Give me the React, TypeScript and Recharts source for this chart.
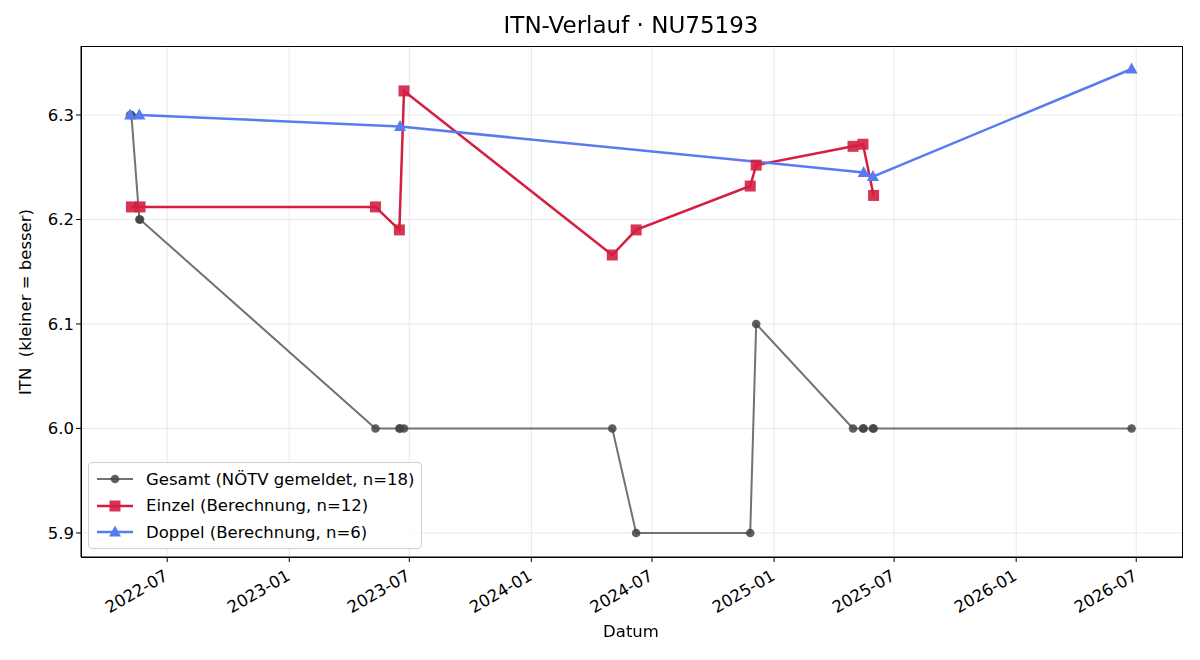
import React from "react";
import { LineChart, Line, XAxis, YAxis, CartesianGrid } from "recharts";

// one row per match date (union of Einzel + Doppel dates)
const dates = [
  "2022-05-06", "2022-05-08", "2022-05-20", "2022-05-21", "2023-05-11", "2023-06-16",
  "2023-06-17", "2023-06-23", "2024-05-02", "2024-06-07", "2024-11-26", "2024-12-05",
  "2025-04-30", "2025-05-15", "2025-05-16", "2025-05-30", "2025-05-31", "2026-06-24",
];
const gesamt = [6.3, 6.3, 6.2, 6.2, 6.0, 6.0, 6.0, 6.0, 6.0, 5.9, 5.9, 6.1, 6.0, 6.0, 6.0, 6.0, 6.0, 6.0];
const einzel = [null, 6.212, null, 6.212, 6.212, 6.19, null, 6.323, 6.166, 6.19, 6.232, 6.252, 6.27, 6.272, null, null, 6.223, null];
const doppel = [6.3, null, 6.3, null, null, null, 6.289, null, null, null, null, null, null, null, 6.245, 6.241, null, 6.344];

const xTickLabels = ["2022-07", "2023-01", "2023-07", "2024-01", "2024-07", "2025-01", "2025-07", "2026-01", "2026-07"];
const yTicks = [5.9, 6.0, 6.1, 6.2, 6.3];

const SERIES = [
  { key: "gesamt", name: "Gesamt (NÖTV gemeldet, n=18)", color: "#727272", marker: "circle", width: 2 },
  { key: "einzel", name: "Einzel (Berechnung, n=12)", color: "#d41f41", marker: "square", width: 2.5 },
  { key: "doppel", name: "Doppel (Berechnung, n=6)", color: "#5a7af0", marker: "triangle", width: 2.5 },
];

const toT = (s: string) => Date.parse(s + "T00:00:00Z");

const data = dates.map((d, i) => ({ t: toT(d), gesamt: gesamt[i], einzel: einzel[i], doppel: doppel[i] }));
const xTicks = xTickLabels.map(l => toT(l + "-01"));
const labelOf: Record<number, string> = {};
xTicks.forEach((t, i) => (labelOf[t] = xTickLabels[i]));

const FONT = "'DejaVu Sans', sans-serif";
const W = 1200, H = 660;
const PLOT = { left: 81, right: 1182, top: 46, bottom: 557 };

function Marker({ kind, x, y }: { kind: string; x: number; y: number }) {
  if (kind === "circle") return <circle cx={x} cy={y} r={4.3} fill="#444" fillOpacity={0.85} />;
  if (kind === "square") return <rect x={x - 5.5} y={y - 5.5} width={11} height={11} fill="#d41f41" fillOpacity={0.9} />;
  return <polygon points={`${x},${y - 6.5} ${x - 6},${y + 4.5} ${x + 6},${y + 4.5}`} fill="#5a7af0" />;
}

const makeDot = (kind: string) => (p: any) => {
  if (p.cx == null || p.cy == null || p.value == null) return <g key={p.index} />;
  return <Marker key={p.index} kind={kind} x={p.cx} y={p.cy} />;
};

function XTick({ x, y, payload }: any) {
  const ax = x + 2, ay = y + 15;
  return (
    <text x={ax} y={ay} transform={`rotate(-30, ${ax}, ${ay})`} textAnchor="end"
      fontSize={16.5} fontFamily={FONT} fill="#000">
      {labelOf[payload.value]}
    </text>
  );
}

function LegendBox() {
  return (
    <div style={{ position: "absolute", left: 88, top: 462, background: "rgba(255,255,255,0.85)", border: "1px solid #d0d0d0", borderRadius: 4, padding: "3px 6px 2px 7px", fontFamily: FONT, fontSize: 16.5 }}>
      {SERIES.map(s => (
        <div key={s.key} style={{ display: "flex", alignItems: "center", height: 26.5 }}>
          <svg width={38} height={14} style={{ marginRight: 12 }}>
            <line x1={1} x2={37} y1={7} y2={7} stroke={s.color} strokeWidth={s.width} />
            <Marker kind={s.marker} x={19} y={7} />
          </svg>
          <span>{s.name}</span>
        </div>
      ))}
    </div>
  );
}

export default function App() {
  return (
    <div style={{ position: "fixed", left: 0, top: 0, width: W, height: H, background: "#fff" }}>
      <LineChart width={W} height={H} data={data} margin={{ top: PLOT.top, right: W - PLOT.right, bottom: 0, left: 0 }}>
        <CartesianGrid stroke="#e3e3e3" strokeWidth={0.8} horizontalValues={yTicks} verticalValues={xTicks} />
        <XAxis dataKey="t" type="number" domain={[toT("2022-02-21"), toT("2026-09-08")]} ticks={xTicks}
          height={H - PLOT.bottom} tick={<XTick />} tickSize={5} tickLine={{ stroke: "#000" }} axisLine={{ stroke: "#000" }} allowDataOverflow />
        <YAxis type="number" domain={[5.877, 6.366]} ticks={yTicks} width={PLOT.left} tickFormatter={(v: number) => v.toFixed(1)}
          tick={{ fontSize: 16.5, fontFamily: FONT, fill: "#000" }} tickSize={5} tickLine={{ stroke: "#000" }} axisLine={{ stroke: "#000" }} allowDataOverflow />
        {SERIES.map(s => (
          <Line key={s.key} dataKey={s.key} name={s.name} type="linear" stroke={s.color} strokeWidth={s.width}
            connectNulls dot={makeDot(s.marker)} activeDot={false} isAnimationActive={false} />
        ))}
      </LineChart>
      <LegendBox />
      <div style={{ position: "absolute", left: PLOT.left, top: PLOT.top, width: PLOT.right - PLOT.left - 1, height: PLOT.bottom - PLOT.top - 1, border: "1px solid #000", pointerEvents: "none" }} />
      <div style={{ position: "absolute", left: 0, width: 1262, top: 12, textAlign: "center", fontFamily: FONT, fontSize: 23 }}>ITN-Verlauf · NU75193</div>
      <div style={{ position: "absolute", left: 0, width: 1262, top: 622, textAlign: "center", fontFamily: FONT, fontSize: 16.5 }}>Datum</div>
      <div style={{ position: "absolute", left: 25, top: 302, transform: "translate(-50%, -50%) rotate(-90deg)", whiteSpace: "pre", fontFamily: FONT, fontSize: 16.5 }}>ITN  (kleiner = besser)</div>
    </div>
  );
}
